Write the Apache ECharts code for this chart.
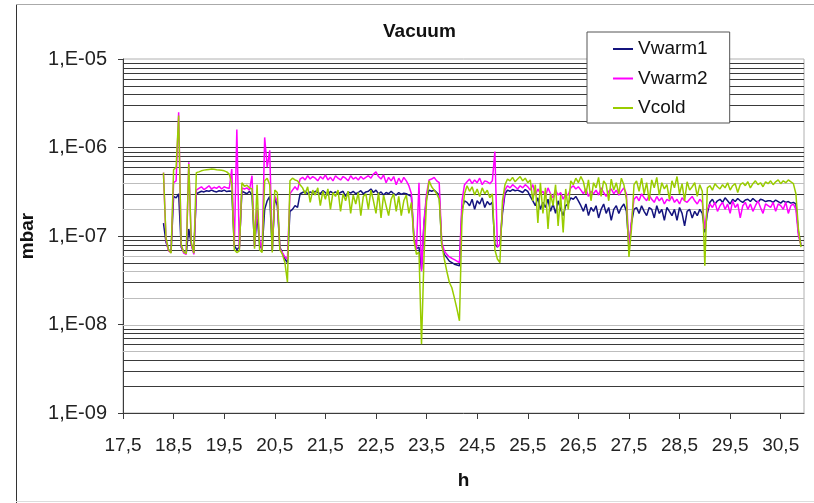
<!DOCTYPE html>
<html>
<head>
<meta charset="utf-8">
<script src="https://cdn.jsdelivr.net/npm/echarts@6/dist/echarts.min.js"></script>
<style>
  html, body { margin: 0; padding: 0; background: #fff; }
  #chart { width: 814px; height: 503px; }
</style>
</head>
<body>
<div id="chart"></div>
<script>
// Logger time stamps, hours
const hours = [
  18.3,18.35,18.4,18.45,18.5,18.55,18.6,18.65,18.7,18.75,
  18.8,18.85,18.9,18.95,19,19.05,19.1,19.15,19.2,19.25,
  19.3,19.35,19.4,19.45,19.5,19.55,19.6,19.65,19.7,19.75,
  19.8,19.85,19.9,19.95,20,20.05,20.1,20.15,20.2,20.25,
  20.3,20.35,20.4,20.45,20.5,20.55,20.6,20.65,20.7,20.75,
  20.8,20.85,20.9,20.95,21,21.05,21.1,21.15,21.2,21.25,
  21.3,21.35,21.4,21.45,21.5,21.55,21.6,21.65,21.7,21.75,
  21.8,21.85,21.9,21.95,22,22.05,22.1,22.15,22.2,22.25,
  22.3,22.35,22.4,22.45,22.5,22.55,22.6,22.65,22.7,22.75,
  22.8,22.85,22.9,22.95,23,23.05,23.1,23.15,23.2,23.25,
  23.3,23.35,23.4,23.45,23.5,23.55,23.6,23.65,23.7,23.75,
  23.8,23.85,23.9,23.95,24,24.05,24.1,24.15,24.2,24.25,
  24.3,24.35,24.4,24.45,24.5,24.55,24.6,24.65,24.7,24.75,
  24.8,24.85,24.9,24.95,25,25.05,25.1,25.15,25.2,25.25,
  25.3,25.35,25.4,25.45,25.5,25.55,25.6,25.65,25.7,25.75,
  25.8,25.85,25.9,25.95,26,26.05,26.1,26.15,26.2,26.25,
  26.3,26.35,26.4,26.45,26.5,26.55,26.6,26.65,26.7,26.75,
  26.8,26.85,26.9,26.95,27,27.05,27.1,27.15,27.2,27.25,
  27.3,27.35,27.4,27.45,27.5,27.55,27.6,27.65,27.7,27.75,
  27.8,27.85,27.9,27.95,28,28.05,28.1,28.15,28.2,28.25,
  28.3,28.35,28.4,28.45,28.5,28.55,28.6,28.65,28.7,28.75,
  28.8,28.85,28.9,28.95,29,29.05,29.1,29.15,29.2,29.25,
  29.3,29.35,29.4,29.45,29.5,29.55,29.6,29.65,29.7,29.75,
  29.8,29.85,29.9,29.95,30,30.05,30.1,30.15,30.2,30.25,
  30.3,30.35,30.4,30.45,30.5,30.55,30.6,30.65,30.7,30.75,
  30.8,30.85,30.9
];

// Pressure readings in units of 1e-9 mbar
const vwarm1 = [
  140,85,70,66,280,270,300,75,66,64,
  120,80,64,300,310,320,315,325,320,330,
  320,315,325,320,330,318,322,320,78,70,
  75,320,310,300,320,290,78,170,80,70,
  200,250,280,68,270,220,75,64,55,50,
  190,200,220,210,300,310,320,300,315,305,
  320,310,300,325,310,290,320,305,315,300,
  310,320,280,315,305,320,300,310,325,300,
  315,320,340,310,330,300,315,290,310,300,
  320,300,290,310,295,305,300,290,280,95,
  72,75,42,140,270,330,320,330,310,290,
  80,62,57,52,50,48,47,46,200,250,
  240,220,260,200,250,230,270,210,245,225,
  240,80,75,80,180,300,330,320,335,325,
  330,320,310,335,320,280,250,220,270,200,
  240,210,260,190,230,180,250,200,170,220,
  230,270,260,280,250,220,190,230,170,210,
  190,220,160,200,230,180,210,150,200,220,
  180,210,230,190,75,140,200,210,180,220,
  190,170,210,200,160,220,180,200,150,210,
  190,170,200,150,210,180,130,190,200,160,
  190,170,200,180,110,180,240,260,230,250,
  260,240,270,250,230,260,245,265,250,240,
  255,260,245,265,250,240,260,255,245,250,
  250,240,255,245,235,250,240,245,235,240,
  230,110,80
];
const vwarm2 = [
  520,90,68,65,400,420,2500,78,64,62,
  680,80,62,330,345,360,335,350,370,340,
  355,345,365,340,360,350,345,570,75,1600,
  72,350,340,350,330,480,75,210,90,70,
  1300,600,930,70,280,250,72,65,58,55,
  300,330,360,330,440,460,430,480,440,470,
  450,420,470,440,490,430,460,420,480,450,
  430,470,450,420,480,440,460,430,470,440,
  460,480,450,500,530,470,440,490,400,460,
  420,470,380,450,400,460,420,370,300,100,
  70,400,40,150,300,430,440,460,420,400,
  85,68,62,58,56,54,52,50,250,380,
  410,440,390,430,400,450,380,420,410,390,
  420,900,75,80,200,330,370,350,380,360,
  340,370,350,380,360,330,380,290,340,300,
  320,280,350,300,270,330,290,310,260,300,
  290,350,370,340,360,330,300,340,280,320,
  300,330,290,350,310,280,320,340,300,330,
  290,320,350,300,70,150,260,280,250,300,
  270,250,290,260,240,280,250,270,230,260,
  250,280,240,260,230,270,250,240,260,280,
  250,230,260,240,120,200,230,210,240,190,
  220,240,200,230,180,250,210,230,160,220,
  240,200,230,190,220,250,210,180,230,220,
  210,240,190,230,220,200,240,180,220,230,
  200,100,80
];
const vcold = [
  520,95,70,64,560,600,2300,80,66,63,
  650,85,64,520,530,545,555,560,565,570,
  568,562,558,552,545,530,500,390,70,65,
  68,400,365,375,350,340,72,380,70,65,
  420,450,380,65,330,310,70,62,50,30,
  420,450,430,420,380,350,300,360,240,330,
  290,350,220,320,260,340,200,310,280,330,
  190,300,250,320,180,290,230,310,170,280,
  300,200,330,250,180,310,160,290,220,170,
  260,300,190,280,170,250,290,180,240,90,
  62,66,6,60,250,420,360,330,300,260,
  80,55,40,30,26,20,15,11,160,300,
  370,320,360,290,340,280,350,300,330,270,
  300,70,55,50,250,380,440,420,460,410,
  440,470,420,450,400,430,250,380,140,400,
  180,350,120,300,220,380,130,290,110,340,
  200,420,380,450,400,470,410,300,430,250,
  400,350,460,280,420,380,250,440,330,400,
  300,450,380,260,58,120,380,420,320,450,
  300,400,250,430,350,460,290,400,340,380,
  260,420,350,470,300,390,250,410,330,360,
  400,280,380,320,46,350,370,330,390,360,
  340,380,350,400,330,370,390,310,380,400,
  370,410,350,390,420,380,400,360,410,390,
  420,380,410,430,390,420,400,430,410,390,
  300,120,75
];

const seriesNames = ['Vwarm1', 'Vwarm2', 'Vcold'];
const hourTicks = [17.5,18.5,19.5,20.5,21.5,22.5,23.5,24.5,25.5,26.5,27.5,28.5,29.5,30.5];
const decadeValues = [1e-9, 1e-8, 1e-7, 1e-6, 1e-5];
const decadeLabels = ['1,E-09', '1,E-08', '1,E-07', '1,E-06', '1,E-05'];
// Horizontal rules at 2..9 x 10^n (and the decades), each with its shade
const ruleValues = [
  9e-6,8e-6,7e-6,6e-6,5e-6,4e-6,3e-6,2e-6,
  1e-6,9e-7,8e-7,7e-7,6e-7,5e-7,4e-7,3e-7,2e-7,
  1e-7,9e-8,8e-8,7e-8,6e-8,5e-8,4e-8,3e-8,2e-8,
  1e-8,9e-9,8e-9,7e-9,6e-9,5e-9,4e-9,3e-9,2e-9
];
const ruleShade = [
  'd','d','d','d','d','d','d','d',
  'd','d','d','d','d','d','l','d','l',
  'd','d','d','d','l','d','l','d','l',
  'l','d','d','d','d','l','d','d','d'
];

const FONT = "'Liberation Sans', Arial, sans-serif";
const COLORS = ['#14147e', '#ff00ff', '#99cc00'];
const RULE_DARK = '#3a3a3a';
const RULE_LIGHT = '#bdbdbd';
const X_MIN = 17.5;
const X_MAX = 30.96;
const UNIT = 1e-9;

function toPairs(vals) {
  return hours.map((h, i) => [h, vals[i] * UNIT]);
}

const chart = echarts.init(document.getElementById('chart'), null, { renderer: 'canvas' });

// full-width horizontal rules placed through the y scale, under the traces
const rulesSeries = {
  name: 'rules',
  type: 'custom',
  silent: true,
  z: 1,
  clip: false,
  encode: { x: 0, y: 1 },
  data: ruleValues.map((v, i) => [X_MIN, v, ruleShade[i] === 'd' ? 1 : 0]),
  renderItem: (params, api) => {
    const p = api.coord([X_MIN, api.value(1)]);
    const cs = params.coordSys;
    const y = Math.round(p[1]) + 0.5;
    return {
      type: 'line',
      shape: { x1: cs.x, y1: y, x2: cs.x + cs.width, y2: y },
      style: { stroke: api.value(2) === 1 ? RULE_DARK : RULE_LIGHT, lineWidth: 1.2 }
    };
  }
};

const dataSeries = [vwarm1, vwarm2, vcold].map((vals, k) => ({
  name: seriesNames[k],
  type: 'line',
  data: toPairs(vals),
  showSymbol: false,
  symbol: 'none',
  z: 6 + k,
  color: COLORS[k],
  lineStyle: { color: COLORS[k], width: 1.5 },
  itemStyle: { color: COLORS[k] },
  emphasis: { disabled: true }
}));

chart.setOption({
  animation: false,
  backgroundColor: '#ffffff',
  title: {
    text: 'Vacuum',
    left: 383,
    top: 22,
    padding: 0,
    textStyle: { fontFamily: FONT, fontSize: 19, fontWeight: 'bold', color: '#111' }
  },
  legend: {
    data: seriesNames,
    orient: 'vertical',
    left: 587,
    top: 32,
    padding: [7, 22, 5, 26],
    backgroundColor: '#ffffff',
    borderColor: '#555',
    borderWidth: 1,
    icon: 'rect',
    itemWidth: 20,
    itemHeight: 2,
    itemGap: 9.5,
    itemTextGap: 6,
    z: 20,
    textStyle: { fontFamily: FONT, fontSize: 19, color: '#111', lineHeight: 20 }
  },
  grid: {
    left: 123,
    right: 10,
    top: 59,
    bottom: 90,
    containLabel: false,
    outerBoundsMode: 'none',
    show: true,
    backgroundColor: '#ffffff',
    borderColor: '#b0b0b0',
    borderWidth: 1
  },
  xAxis: {
    type: 'value',
    min: X_MIN,
    max: X_MAX,
    name: 'h',
    nameLocation: 'middle',
    nameGap: 58,
    nameTextStyle: { fontFamily: FONT, fontSize: 19, fontWeight: 'bold', color: '#111' },
    axisLine: { show: true, onZero: false, lineStyle: { color: '#3c3c3c', width: 1 } },
    axisTick: { show: true, inside: false, length: 6, customValues: hourTicks, lineStyle: { color: '#3c3c3c' } },
    axisLabel: {
      customValues: hourTicks,
      margin: 23,
      fontFamily: FONT,
      fontSize: 19,
      color: '#222',
      formatter: v => v.toFixed(1).replace('.', ',')
    },
    splitLine: { show: false }
  },
  yAxis: {
    type: 'log',
    logBase: 10,
    min: 1e-9,
    max: 1e-5,
    splitNumber: 4,
    name: 'mbar',
    nameLocation: 'middle',
    nameRotate: 90,
    nameGap: 78,
    nameTextStyle: { fontFamily: FONT, fontSize: 19, fontWeight: 'bold', color: '#111' },
    axisLine: { show: true, lineStyle: { color: '#3c3c3c', width: 1 } },
    axisTick: { show: true, inside: false, length: 5, lineStyle: { color: '#3c3c3c' } },
    axisLabel: {
      margin: 16,
      fontFamily: FONT,
      fontSize: 20,
      color: '#222',
      formatter: v => {
        const k = decadeValues.findIndex(t => Math.abs(Math.log10(t) - Math.log10(v)) < 1e-6);
        return k >= 0 ? decadeLabels[k] : '';
      }
    },
    splitLine: { show: false },
    minorSplitLine: { show: false }
  },
  series: [rulesSeries].concat(dataSeries),
  graphic: [
    { type: 'line', shape: { x1: 16.5, y1: 4, x2: 16.5, y2: 503 }, style: { stroke: '#333', lineWidth: 1 }, silent: true },
    { type: 'line', shape: { x1: 16, y1: 4.5, x2: 814, y2: 4.5 }, style: { stroke: '#aaa', lineWidth: 1 }, silent: true },
    { type: 'line', shape: { x1: 16, y1: 501.5, x2: 814, y2: 501.5 }, style: { stroke: '#ddd', lineWidth: 1 }, silent: true }
  ]
});
</script>
</body>
</html>
